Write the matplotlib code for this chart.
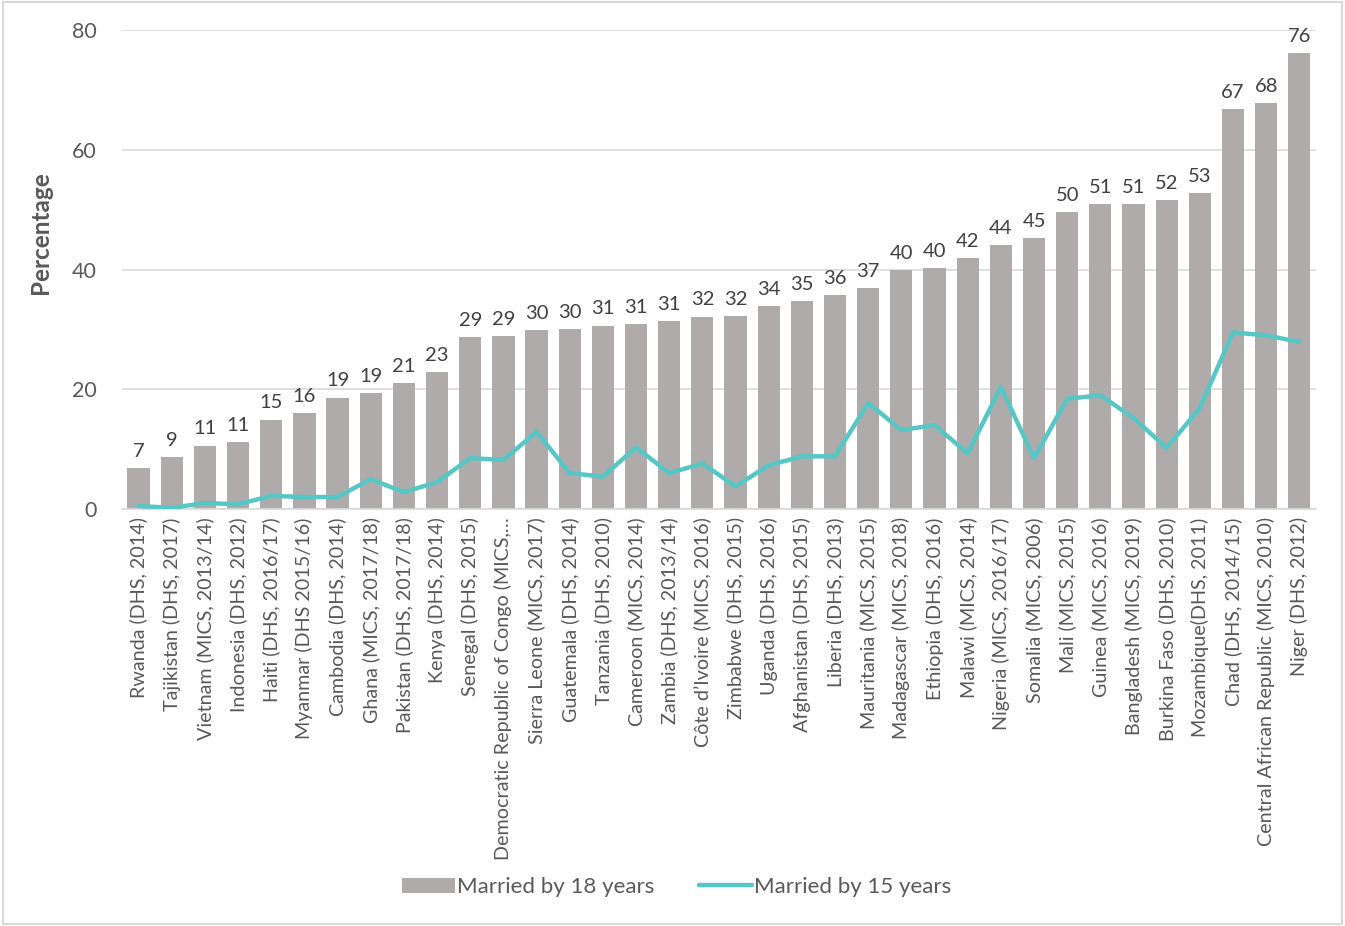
import numpy as np
import matplotlib
matplotlib.use("Agg")
import matplotlib.pyplot as plt
from matplotlib.patches import Rectangle

plt.rcParams['font.family'] = ['Lato', 'DejaVu Sans']

countries = ["Rwanda (DHS, 2014)", "Tajikistan (DHS, 2017)", "Vietnam (MICS, 2013/14)",
             "Indonesia (DHS, 2012)", "Haiti (DHS, 2016/17)", "Myanmar (DHS 2015/16)",
             "Cambodia (DHS, 2014)", "Ghana (MICS, 2017/18)", "Pakistan (DHS, 2017/18)",
             "Kenya (DHS, 2014)", "Senegal (DHS, 2015)", "Democratic Republic of Congo (MICS,\u2026",
             "Sierra Leone (MICS, 2017)", "Guatemala (DHS, 2014)", "Tanzania (DHS, 2010)",
             "Cameroon (MICS, 2014)", "Zambia (DHS, 2013/14)", "C\u00f4te d\u2019Ivoire (MICS, 2016)",
             "Zimbabwe (DHS, 2015)", "Uganda (DHS, 2016)", "Afghanistan (DHS, 2015)",
             "Liberia (DHS, 2013)", "Mauritania (MICS, 2015)", "Madagascar (MICS, 2018)",
             "Ethiopia (DHS, 2016)", "Malawi (MICS, 2014)", "Nigeria (MICS, 2016/17)",
             "Somalia (MICS, 2006)", "Mali (MICS, 2015)", "Guinea (MICS, 2016)",
             "Bangladesh (MICS, 2019)", "Burkina Faso (DHS, 2010)", "Mozambique(DHS, 2011)",
             "Chad (DHS, 2014/15)", "Central African Republic (MICS, 2010)", "Niger (DHS, 2012)"]

married_18 = [6.8, 8.7, 10.6, 11.2, 14.9, 16.0, 18.6, 19.4, 21.0, 22.9,
              28.7, 28.9, 29.9, 30.0, 30.6, 30.9, 31.4, 32.1, 32.2, 33.9,
              34.7, 35.7, 36.9, 39.9, 40.2, 41.9, 44.1, 45.2, 49.6, 50.9,
              50.9, 51.6, 52.8, 66.8, 67.8, 76.1]

married_15 = [0.5, 0.2, 1.0, 0.8, 2.2, 2.0, 2.0, 5.0, 2.8, 4.5,
              8.5, 8.2, 12.9, 6.0, 5.4, 10.3, 6.0, 7.6, 3.8, 7.3,
              8.8, 8.8, 17.7, 13.2, 14.0, 9.3, 20.4, 8.5, 18.4, 19.0,
              15.2, 10.2, 16.9, 29.5, 29.0, 27.9]

grey = "#AFABAB"
teal = "#56C7C4"
txt = "#595959"

fig = plt.figure(figsize=(13.45, 9.26), dpi=100)
fig.patches.append(Rectangle((0.002, 0.002), 0.996, 0.996, transform=fig.transFigure,
                             fill=False, edgecolor="#D9D9D9", linewidth=1.5))
ax = fig.add_axes([0.0907, 0.4503, 0.8877, 0.5173])

x = np.arange(len(countries))
bars = ax.bar(x, married_18, width=0.67, color=grey, zorder=2, label="Married by 18 years")
line, = ax.plot(x, married_15, color=teal, linewidth=3.2, zorder=3, solid_capstyle='round',
                label="Married by 15 years")

for xi, v in zip(x, married_18):
    ax.annotate(f"{v:.0f}", (xi, v), xytext=(0, 6), textcoords="offset points",
                ha="center", va="bottom", fontsize=14.5, color="#404040")

ax.set_xlim(-0.5, len(countries) - 0.5)
ax.set_ylim(0, 80)
ax.set_yticks([0, 20, 40, 60, 80])
ax.yaxis.grid(True, color="#D9D9D9", linewidth=1.2, zorder=0)
ax.set_axisbelow(True)
for s in ["top", "right", "left"]:
    ax.spines[s].set_visible(False)
ax.spines["bottom"].set_color("#D9D9D9")
ax.spines["bottom"].set_linewidth(1.2)
ax.tick_params(axis="y", length=0, labelsize=15.5, labelcolor=txt, pad=18)
ax.tick_params(axis="x", length=0, labelsize=14.2, labelcolor=txt, pad=6)
ax.set_xticks(x)
ax.set_xticklabels(countries, rotation=90)
ax.set_ylabel("Percentage", fontsize=17.5, fontweight="bold", color=txt)
ax.yaxis.set_label_coords(-0.0586, 0.578)

leg = fig.legend([bars, line], ["Married by 18 years", "Married by 15 years"],
                 loc="center", bbox_to_anchor=(0.503, 0.042), ncol=2, frameon=False,
                 fontsize=16, handlelength=2.4, handletextpad=0.08, columnspacing=2.0)
for t in leg.get_texts():
    t.set_color(txt)

fig.savefig("out.png", dpi=100)
